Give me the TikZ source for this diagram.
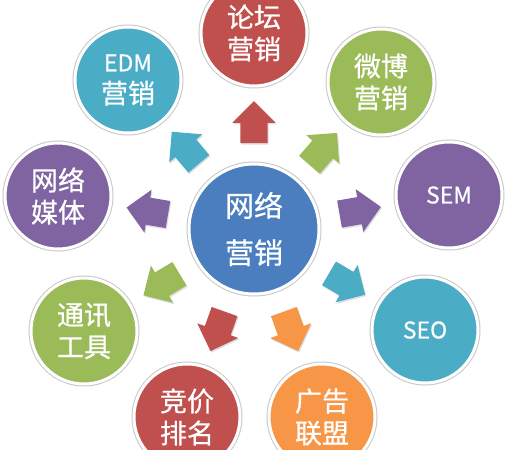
\documentclass[tikz,border=0pt]{standalone}
\usepackage{fontspec}
\setmainfont{Noto Sans CJK SC}[FakeBold=0.6]
\usetikzlibrary{shapes.arrows,calc,shadows}
\definecolor{blueC}{HTML}{4A7EBE}
\definecolor{redC}{HTML}{C0504D}
\definecolor{cyanC}{HTML}{4BACC6}
\definecolor{greenC}{HTML}{9BBB59}
\definecolor{purpleC}{HTML}{8064A2}
\definecolor{orangeC}{HTML}{F79646}
\tikzset{
  ball/.style={circle, inner sep=0pt, minimum size=106pt, text=white, align=center,
    font=\fontsize{27}{32}\selectfont,
    preaction={draw=black!22, line width=5pt},
    draw=white, line width=3pt},
  hub/.style={ball, minimum size=130pt, font=\fontsize{29}{47}\selectfont},
  arr/.style={single arrow, inner xsep=0pt, inner ysep=13.5pt, minimum height=42pt,
    single arrow head extend=8pt, draw=none,
    drop shadow={shadow xshift=1pt, shadow yshift=-1.5pt, opacity=0.25}},
  lat/.style={font=\fontsize{23}{23}\selectfont}
}
\begin{document}
\begin{tikzpicture}[x=1pt,y=-1pt]
\useasboundingbox (0,0) rectangle (512,450);
\fill[white] (0,0) rectangle (512,450);
\node[hub, fill=blueC] (c) at (254,229) {网络\\营销};
\node[ball, fill=redC] (o1) at (254,33) {论坛\\营销};
\node[ball, fill=cyanC] (o2) at (128,80) {{\fontsize{23}{23}\selectfont EDM}\\营销};
\node[ball, fill=greenC] (o3) at (381,82) {微博\\营销};
\node[ball, fill=purpleC] (o4) at (58,196) {网络\\媒体};
\node[ball, fill=purpleC, lat] (o5) at (449,195) {SEM};
\node[ball, fill=greenC] (o6) at (84,331) {通讯\\工具};
\node[ball, fill=cyanC, lat] (o7) at (425,330) {SEO};
\node[ball, fill=redC] (o8) at (187,417) {竞价\\排名};
\node[ball, fill=orangeC] (o9) at (322,417) {广告\\联盟};
\foreach \o/\col in {o1/redC,o2/cyanC,o3/greenC,o4/purpleC,o5/purpleC,o6/greenC,o7/cyanC,o8/redC,o9/orangeC}{
  \path let \p1=($(\o)-(c)$), \n1={atan2(\y1,\x1)} in
    node[arr, fill=\col, rotate=\n1] (a-\o) at ($(c)!0.51!(\o)$) {};
}
\end{tikzpicture}
\end{document}
